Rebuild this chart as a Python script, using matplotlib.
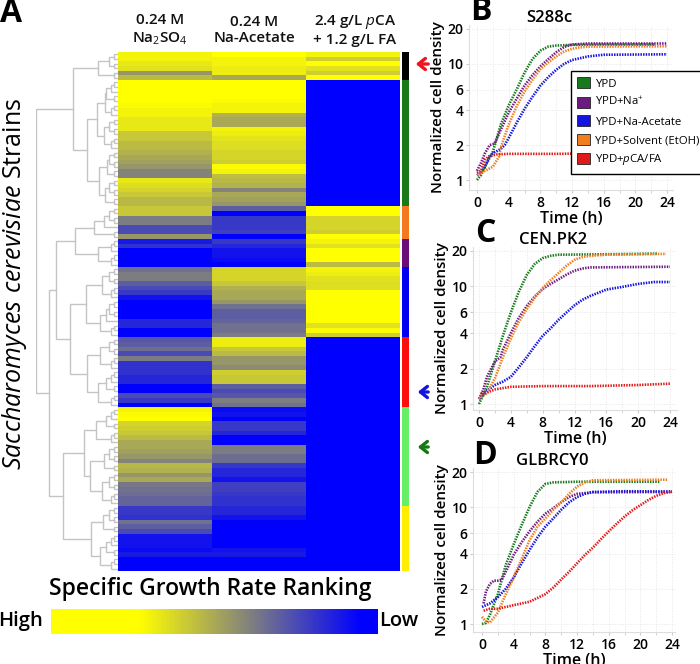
"""Growth-rate ranking heatmap with dendrogram and three growth-curve panels."""

import matplotlib
matplotlib.use("Agg")
import matplotlib.pyplot as plt
import numpy as np
from matplotlib.colors import LinearSegmentedColormap
from matplotlib.patches import Patch

plt.rcParams["font.family"] = ["Open Sans", "DejaVu Sans"]
plt.rcParams["mathtext.fontset"] = "custom"
plt.rcParams["mathtext.rm"] = "Open Sans"
plt.rcParams["mathtext.it"] = "Open Sans:italic"
plt.rcParams["mathtext.bf"] = "Open Sans:bold"

W, H = 700, 664

# heatmap ranks (0 = high, 1 = low), cluster by cluster
CLUSTER_SIZES = [6, 27, 7, 6, 15, 15, 21, 14]
CLUSTER_COLORS = ["#000000", "#1a7a1a", "#f47a1f", "#6a0f78", "#0000f0", "#fb0d0d", "#66ee66", "#ffee00"]
NA2SO4 = [.3, .3, .33, .35, .55, .45,
          .1, .1, .1, .1, .1, .28, .3, .3, .33, .33, .33, .42, .42, .45, .45, .48, .5, .52, .55, .6, .6, .33, .36, .38, .42, .46, .46,
          .42, .42, .62, .62, .75, .75, .55,
          .88, .82, 1, 1, 1, .95,
          .65, .62, .62, .7, .75, .8, .9, .95, 1, .98, 1, .85, .85, 1, 1,
          .72, .7, .66, .75, .62, .82, .82, .82, .85, .85, .95, 1, .75, .8, .95,
          .3, .28, .12, .38, .4, .42, .45, .5, .5, .52, .55, .6, .46, .48, .55, .5, .63, .65, .66, .68, .68,
          .8, .8, .82, .65, .7, .75, .9, .9, .9, .92, .88, 1, 1, 1]
NA_ACETATE = [.22, .3, .3, .32, .32, .5,
              .05, .05, .08, .12, .28, .3, .3, .48, .5, .5, .3, .32, .34, .36, .36, .38, .38, .4, .28, .3, .44, .46, .48, .6, .5, .52, .55,
              .7, .95, .8, .8, .8, .78, 1,
              .8, .85, .9, .9, .92, 1,
              .38, .38, .38, .42, .48, .5, .5, .55, .65, .7, .7, .68, .65, .65, .62,
              .32, .32, .42, .45, .55, .55, .58, .4, .42, .42, .7, .75, .72, .62, .65,
              .92, .9, .95, .8, .8, .85, 1, .98, .62, .62, .66, .66, .8, .85, .85, .9, .78, .78, .8, .82, .82,
              .85, .85, .9, 1, .98, .97, .95, .95, .97, .9, .88, 1, 1, 1]
PCA_FA = [.3, .4, .15, .35, .4, .25] + [1] * 27 + [.15, .18, .38, .38, .38, .4, .12] + [.3, .35, .2, .22, .22, .45] \
    + [.3, .32, .35, .36, .36, .2, .15, 0, 0, 0, .05, .1, .35, .28, .4] + [1] * 50
HEAT_COLUMNS = ["0.24 M\nNa$_2$SO$_4$", "0.24 M\nNa-Acetate", "2.4 g/L $\\mathit{p}$CA\n+ 1.2 g/L FA"]

# dendrogram: (merge distance, left, right), 0 is a leaf
p = (4, 0, 0); t = (7, p, 0); q = (9, p, p); f = (12, t, p)
BLACK = (20, q, p)
GREEN = (31, (21, (13, f, t), (14, q, t)), (19, (11, q, p), (13, q, p)))
ORANGE = (24, (14, q, 0), p)
PURPLE = (20, t, t)
BLUE = (32, (16, q, t), (18, (12, q, 0), t))
RED = (31, (18, q, t), (20, f, t))
LGREEN = (34, (22, f, t), (28, (14, q, p), (16, q, t)))
YELLOW = (27, (15, q, p), (18, f, t))
TREE = (82, (45, BLACK, GREEN), (69, (62, (43, ORANGE, PURPLE), (48, BLUE, RED)), (55, LGREEN, YELLOW)))

# growth curves: hours and normalized density
LABELS = ["YPD", "YPD+Na$^{+}$", "YPD+Na-Acetate", "YPD+Solvent (EtOH)", "YPD+$\\mathit{p}$CA/FA"]
COLORS = ["#167a1c", "#6d1a80", "#1414e0", "#f07d1e", "#e01a1a"]

B_GREEN_T = [0, .5, 1, 2, 3, 4, 5, 6, 7, 8, 9, 10, 12, 16, 22.5]
B_GREEN_V = [1, 1.1, 1.3, 1.75, 3.0, 4.4, 6.0, 8.4, 11, 13, 14.1, 14.4, 14.6, 14.7, 14.7]
B_PURPLE_T = [0, .5, 1, 1.6, 2.2, 3, 4, 5, 6, 7, 8, 9, 10, 11, 12, 14, 24]
B_PURPLE_V = [1.2, 1.4, 1.7, 2.0, 2.05, 2.7, 3.8, 5, 6.5, 8, 9.5, 11, 12.6, 14, 14.7, 15, 15]
B_BLUE_T = [0, .5, 1, 1.5, 2, 3, 3.5, 4, 5, 6, 7, 8, 9, 10, 11, 12, 13, 14, 16, 24]
B_BLUE_V = [1.1, 1.15, 1.3, 1.55, 1.7, 1.85, 2.0, 2.3, 3.1, 4.1, 5.2, 6.5, 7.7, 8.9, 10, 10.8, 11.2, 11.6, 12, 12.1]
B_ORANGE_T = [0, 1, 2, 2.8, 3, 4, 5, 6, 7, 8, 9, 10, 11, 12, 13, 14, 24]
B_ORANGE_V = [1.1, 1.2, 1.3, 1.6, 1.9, 3, 4.3, 5.8, 7.3, 9, 10.3, 11.6, 12.8, 13.5, 13.9, 14.1, 14.2]
B_RED_T = [0, .5, 1, 1.5, 2.5, 4, 10, 16, 20, 24]
B_RED_V = [1.15, 1.2, 1.5, 1.6, 1.66, 1.68, 1.68, 1.7, 1.72, 1.72]

C_GREEN_T = [0, 1, 2, 3, 4, 5, 6, 7, 8, 9, 10, 14, 22.5]
C_GREEN_V = [1, 1.4, 2.3, 3.8, 6, 9, 12.5, 15.5, 17.4, 18.2, 18.6, 18.7, 19]
C_PURPLE_T = [0, .5, 1, 2, 2.7, 3, 4, 5, 6, 7, 8, 9, 10, 11, 12, 13, 14, 24]
C_PURPLE_V = [1.1, 1.3, 1.7, 2.3, 2.5, 2.9, 4, 5.4, 6.8, 8.2, 9.5, 10.5, 11.5, 12.6, 13.6, 14.2, 14.5, 14.7]
C_BLUE_T = [0, 1, 2, 3, 4, 5, 6, 7, 8, 9, 10, 11, 12, 13, 14, 16, 18, 20, 22, 24]
C_BLUE_V = [1.1, 1.3, 1.45, 1.55, 1.7, 2.05, 2.5, 3.1, 3.8, 4.4, 5.2, 6, 6.9, 7.7, 8.3, 9.4, 9.9, 10.5, 10.9, 10.9]
C_ORANGE_T = [0, 1, 2, 3, 4, 5, 6, 7, 8, 9, 10, 11, 12, 13, 14, 16, 23.5]
C_ORANGE_V = [1.1, 1.25, 1.65, 2.5, 3.6, 5, 6.4, 8, 9.7, 11.3, 13, 15, 16.8, 17.8, 18.2, 18.6, 18.9]
C_RED_T = [.2, .5, 1, 2, 4, 8, 14, 20, 24]
C_RED_V = [1.25, 1.2, 1.25, 1.33, 1.4, 1.42, 1.42, 1.45, 1.49]

D_GREEN_T = [0, .5, 1, 2, 3, 4, 5, 6, 7, 8, 9, 12, 22.5]
D_GREEN_V = [1, 1.02, 1.2, 1.8, 3.2, 4.8, 7, 10, 13.5, 15.8, 16.3, 16.5, 16.5]
D_PURPLE_T = [.2, .5, 1, 1.5, 2, 2.5, 3, 4, 5, 6, 7, 8, 9, 10, 11, 12, 14, 24]
D_PURPLE_V = [1.5, 1.9, 2.2, 2.35, 2.35, 2.4, 2.8, 3.9, 5, 6.2, 7.5, 8.8, 9.8, 11, 12.2, 13, 13.4, 13.5]
D_BLUE_T = [0, 1, 2, 3, 4, 5, 6, 7, 8, 9, 10, 11, 12, 13, 14, 18, 24]
D_BLUE_V = [1.4, 1.5, 1.7, 2, 2.5, 3.3, 4.3, 5.5, 6.8, 8, 9.5, 11, 12.2, 13, 13.5, 13.7, 13.6]
D_ORANGE_T = [0, .5, 1, 2, 3, 4, 5, 6, 7, 8, 9, 10, 11, 12, 13, 14, 23.5]
D_ORANGE_V = [1.15, 1.05, 1.03, 1.25, 1.8, 2.5, 3.6, 5.2, 6.8, 8, 9.5, 11, 13, 15, 16.3, 17, 17.2]
D_RED_T = [.2, 1, 2, 4, 6, 8, 9, 10, 11, 12, 13, 14, 15, 16, 17, 18, 19, 20, 21, 22, 23, 24]
D_RED_V = [1.3, 1.35, 1.35, 1.45, 1.55, 1.8, 2.05, 2.4, 2.8, 3.3, 3.9, 4.5, 5.3, 6.2, 7.2, 8.3, 9.4, 10.4, 11.5, 12.5, 13.2, 13.6]

PANELS = [
    ("S288c", "B", (469, 673, 25, 190), (477, 667, 29, 180),
     [(B_GREEN_T, B_GREEN_V), (B_PURPLE_T, B_PURPLE_V), (B_BLUE_T, B_BLUE_V), (B_ORANGE_T, B_ORANGE_V), (B_RED_T, B_RED_V)]),
    ("CEN.PK2", "C", (473, 677, 247, 410), (479, 670, 251, 404),
     [(C_GREEN_T, C_GREEN_V), (C_PURPLE_T, C_PURPLE_V), (C_BLUE_T, C_BLUE_V), (C_ORANGE_T, C_ORANGE_V), (C_RED_T, C_RED_V)]),
    ("GLBRCY0", "D", (473, 675, 468, 632), (482, 672, 472, 624),
     [(D_GREEN_T, D_GREEN_V), (D_PURPLE_T, D_PURPLE_V), (D_BLUE_T, D_BLUE_V), (D_ORANGE_T, D_ORANGE_V), (D_RED_T, D_RED_V)]),
]
YTICKS = [1, 2, 4, 6, 10, 20]
XTICKS = [0, 4, 8, 12, 16, 20, 24]
RANK_CMAP = LinearSegmentedColormap.from_list("rank", [(0, "#ffff00"), (.27, "#ffff00"), (.61, "#808080"), (.95, "#0000ff"), (1, "#0000ff")])


def px_axes(fig, x0, x1, y0, y1):
    return fig.add_axes([x0 / W, 1 - y1 / H, (x1 - x0) / W, (y1 - y0) / H])


def px_text(fig, x, y, s, **kw):
    kw.setdefault("ha", "center"); kw.setdefault("va", "center")
    return fig.text(x / W, 1 - y / H, s, **kw)


def draw_tree(ax, node, next_leaf):
    """Walk the nested merges top-down and return (distance, y) of the node."""
    if node == 0:
        next_leaf[0] += 1
        return 0, next_leaf[0] - .5
    dist, left, right = node
    d0, y0 = draw_tree(ax, left, next_leaf); d1, y1 = draw_tree(ax, right, next_leaf)
    ax.plot([d0, dist, dist, d1], [y0, y0, y1, y1], color="#c4c4c4", lw=1, solid_joinstyle="miter")
    return dist, (y0 + y1) / 2


def main():
    fig = plt.figure(figsize=(W / 100, H / 100), dpi=100)
    rows = sum(CLUSTER_SIZES)

    ax = px_axes(fig, 118, 400, 52, 571)
    ax.imshow(np.array([NA2SO4, NA_ACETATE, PCA_FA]).T, cmap=RANK_CMAP, vmin=0, vmax=1, aspect="auto", interpolation="nearest")
    ax.axis("off")

    ax = px_axes(fig, 36, 118, 52, 571)
    draw_tree(ax, TREE, [0])
    ax.set_xlim(82, 0); ax.set_ylim(rows, 0); ax.axis("off")

    ax = px_axes(fig, 402, 409, 52, 571)
    ax.bar(0, CLUSTER_SIZES, bottom=np.cumsum([0] + CLUSTER_SIZES[:-1]), width=1, color=CLUSTER_COLORS)
    ax.set_xlim(-.5, .5); ax.set_ylim(rows, 0); ax.axis("off")

    for x, label in zip((160, 254, 355), HEAT_COLUMNS):
        px_text(fig, x, 30, label, fontsize=11, weight="semibold", linespacing=1.25, color="#111111")
    px_text(fig, 15, 284, "$\\mathit{Saccharomyces\\ cerevisiae}$ Strains", fontsize=18, rotation=90, color="black")
    px_text(fig, 11, 14, "A", fontsize=23, weight="bold")
    px_text(fig, 210, 589, "Specific Growth Rate Ranking", fontsize=16.5, weight="semibold")
    px_text(fig, 21, 621, "High", fontsize=14.5, weight="semibold")
    px_text(fig, 399, 621, "Low", fontsize=14.5, weight="semibold")

    ax = px_axes(fig, 51, 378, 609, 634)
    ax.imshow(np.linspace(0, 1, 256)[None, :], cmap=RANK_CMAP, aspect="auto")
    ax.axis("off")

    for y, color, x0 in ((64, "#f0141e", 413), (392, "#1414e0", 415), (447, "#137a13", 415)):
        fig.add_artist(matplotlib.patches.FancyArrowPatch((431 / W, 1 - y / H), (x0 / W, 1 - y / H), transform=fig.transFigure,
                       arrowstyle="->,head_length=5,head_width=4", color=color, lw=2.4))

    for title, letter, box, ref, curves in PANELS:
        ax = px_axes(fig, box[0], box[1], box[2], box[3])
        hour = (ref[1] - ref[0]) / 24
        decade = (ref[3] - ref[2]) / np.log10(20)
        ax.set_xscale("linear"); ax.set_yscale("log")
        ax.set_xlim((box[0] - ref[0]) / hour, (box[1] - ref[0]) / hour)
        ax.set_ylim(10 ** ((ref[3] - box[3]) / decade), 10 ** ((ref[3] - box[2]) / decade))
        for (hours, values), color in zip(curves, COLORS):
            ax.plot(hours, values, color=color, lw=1.9, ls=(0, (.55, .45)))
        ax.set_xticks(XTICKS); ax.set_xticks(range(2, 24, 4), minor=True)
        ax.set_yticks(YTICKS); ax.set_yticklabels(YTICKS); ax.minorticks_off()
        ax.set_xticks(range(0, 25, 2), minor=True)
        ax.grid(True, which="both", color="#e6e6e6", lw=.7, ls=":")
        ax.tick_params(which="both", length=2, color="#cccccc", labelsize=10, pad=2)
        for tick in ax.get_xticklabels() + ax.get_yticklabels():
            tick.set_fontweight("semibold")
        for name in ("top", "right"):
            ax.spines[name].set_visible(False)
        for name in ("left", "bottom"):
            ax.spines[name].set_color("#dddddd")
        ax.set_xlabel("Time (h)", fontsize=11.5, weight="semibold", labelpad=1)
        ax.set_ylabel("Normalized cell density", fontsize=11, weight="semibold", labelpad=2)
        px_text(fig, (box[0] + box[1]) / 2 - 22, box[2] - 7, title, fontsize=12, weight="semibold")
        px_text(fig, box[0] + 12, box[2] - 13, letter, fontsize=23, weight="bold")

    handles = [Patch(facecolor=c, edgecolor="#222222", lw=.6) for c in COLORS]
    legend = fig.legend(handles, LABELS, loc="upper left", bbox_to_anchor=(571 / W, 1 - 71 / H), fontsize=8.2, frameon=True, fancybox=False,
                        framealpha=1, edgecolor="black", handlelength=1.1, handleheight=1.1, handletextpad=.5, labelspacing=.55,
                        borderpad=.55, borderaxespad=0, shadow=False)
    legend.get_frame().set_linewidth(1)
    legend.set_zorder(10)

    fig.savefig("out.png", dpi=100); plt.close(fig)


if __name__ == "__main__":
    main()
